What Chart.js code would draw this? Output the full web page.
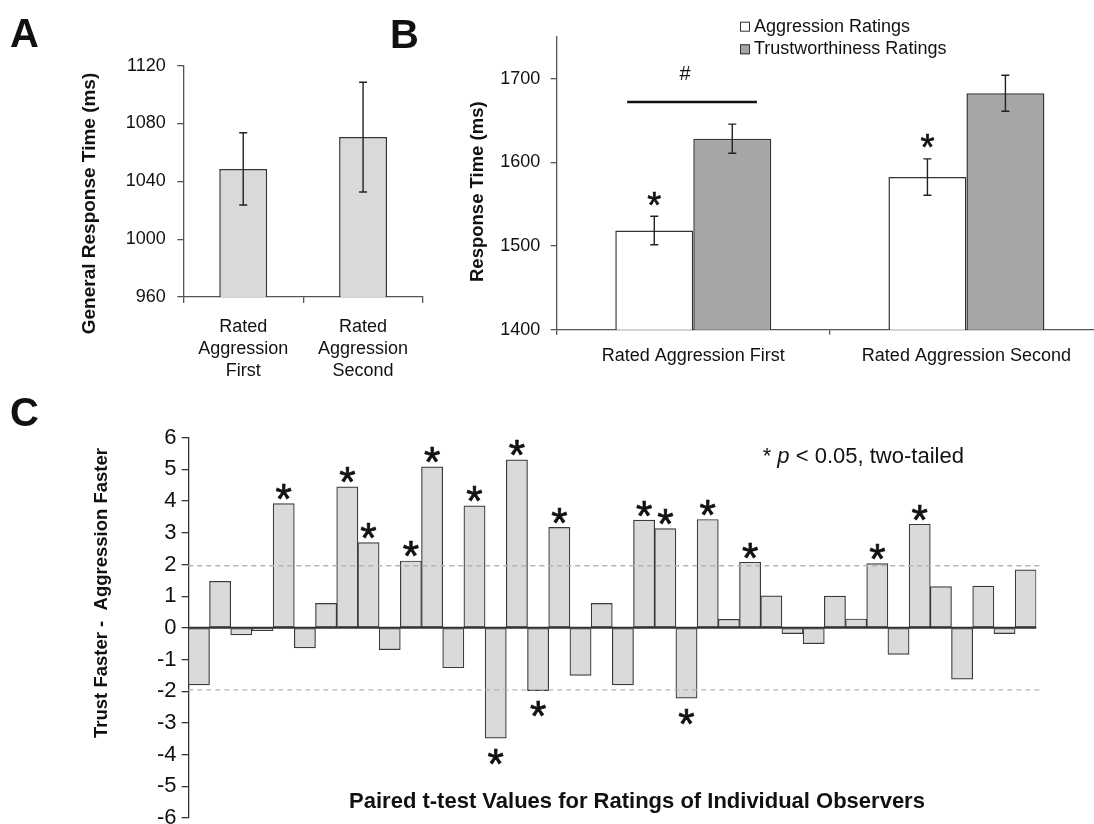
<!DOCTYPE html>
<html>
<head>
<meta charset="utf-8">
<title>Response times and observer t-values</title>
<script src="https://cdn.jsdelivr.net/npm/chart.js@4.4.1/dist/chart.umd.min.js"></script>
<style>
  html, body { margin:0; padding:0; background:#fff; overflow:hidden; }
  body { position:relative; width:1094px; height:824px; font-family:"Liberation Sans", Arial, sans-serif; color:#111; }
  canvas { position:absolute; }
  .tag { position:absolute; font-weight:bold; font-size:40px; line-height:1; }
</style>
</head>
<body>
<canvas id="chartA" width="440" height="390" style="left:0;top:0"></canvas>
<canvas id="chartB" width="670" height="390" style="left:440px;top:0"></canvas>
<canvas id="chartC" width="1094" height="470" style="left:0;top:380px"></canvas>
<div class="tag" style="left:10px;top:13px">A</div>
<div class="tag" style="left:390px;top:14px">B</div>
<div class="tag" style="left:10px;top:392px">C</div>
<script>
// ---- data ----
// panel A
const phaseLabels = [['Rated','Aggression','First'], ['Rated','Aggression','Second']];
const generalRT    = [1048.6, 1070.6];
const generalRTErr = [25, 38];

// panel B
const groupLabels   = ['Rated Aggression First', 'Rated Aggression Second'];
const seriesNames   = ['Aggression Ratings', 'Trustworthiness Ratings'];
const aggressionRT  = [1518.5, 1582.3];
const aggressionErr = [17, 21.7];
const aggressionSig = [true, true];
const trustRT       = [1628.2, 1682.4];
const trustErr      = [17.4, 21.5];
const trustSig      = [false, false];
const orderEffect   = 1672;   // '#' bar height (ms)

// panel C: paired t per observer
const tValues = [
  -1.80, 1.47, -0.22, -0.09, 3.92, -0.63, 0.77, 4.45, 2.69, -0.69,
   2.11, 5.08, -1.26, 3.85, -3.48, 5.30, -1.98, 3.17, -1.50, 0.77,
  -1.80, 3.40, 3.13, -2.22, 3.42, 0.27, 2.07, 1.01, -0.18, -0.50,
   1.00, 0.28, 2.03, -0.84, 3.27, 1.30, -1.62, 1.32, -0.18, 1.83
];
const tSig = [
  false,false,false,false,true, false,false,true, true, false,
  true, true, false,true, true, true, true, true, false,false,
  false,true, true, true, true, false,true, false,false,false,
  false,false,true, false,true, false,false,false,false,false
];
const observers = tValues.map((_, i) => 'Observer ' + (i + 1));
const critT = 1.96;

// ---- look ----
const FAMILY = '"Liberation Sans", Arial, sans-serif';
Chart.defaults.font.family = FAMILY;
Chart.defaults.color = '#111';
const axisGrey = '#555';
const edge = '#333';
const plain = v => String(v);   // no thousands separator

// ---- small plugins ----
const errorBars = {
  id: 'errorBars',
  afterDatasetsDraw(chart, args, opts) {
    const ctx = chart.ctx, y = chart.scales.y;
    chart.data.datasets.forEach((ds, di) => {
      if (!ds.errors) return;
      chart.getDatasetMeta(di).data.forEach((bar, i) => {
        const v = ds.data[i], e = ds.errors[i];
        const y1 = y.getPixelForValue(v + e), y2 = y.getPixelForValue(v - e);
        const cap = opts.cap || 4;
        ctx.save();
        ctx.strokeStyle = opts.color || '#222';
        ctx.lineWidth = opts.width || 1.3;
        ctx.beginPath();
        ctx.moveTo(bar.x, y1); ctx.lineTo(bar.x, y2);
        ctx.moveTo(bar.x - cap, y1); ctx.lineTo(bar.x + cap, y1);
        ctx.moveTo(bar.x - cap, y2); ctx.lineTo(bar.x + cap, y2);
        ctx.stroke();
        ctx.restore();
      });
    });
  }
};

const refLines = {
  id: 'refLines',
  afterDatasetsDraw(chart, args, opts) {
    if (!opts.on) return;
    const ctx = chart.ctx, a = chart.chartArea, y = chart.scales.y;
    ctx.save();
    const y0 = y.getPixelForValue(0);
    ctx.strokeStyle = opts.zeroColor; ctx.lineWidth = opts.zeroWidth;
    ctx.beginPath(); ctx.moveTo(a.left, y0); ctx.lineTo(a.right, y0); ctx.stroke();
    ctx.strokeStyle = opts.dashColor; ctx.lineWidth = 1.3; ctx.setLineDash(opts.dash);
    opts.dashed.forEach(v => {
      const yy = y.getPixelForValue(v);
      ctx.beginPath(); ctx.moveTo(a.left, yy); ctx.lineTo(a.right + opts.overhang, yy); ctx.stroke();
    });
    ctx.restore();
  }
};

const stars = {
  id: 'stars',
  afterDatasetsDraw(chart, args, opts) {
    if (!opts.size) return;
    const ctx = chart.ctx, y = chart.scales.y;
    ctx.save();
    ctx.font = opts.size + 'px ' + FAMILY;
    ctx.fillStyle = '#111'; ctx.strokeStyle = '#111'; ctx.lineWidth = opts.stroke || 0;
    ctx.textAlign = 'center'; ctx.textBaseline = 'alphabetic';
    const m = ctx.measureText('*');
    const shift = (m.actualBoundingBoxAscent - m.actualBoundingBoxDescent) / 2;
    chart.data.datasets.forEach((ds, di) => {
      if (!ds.stars) return;
      chart.getDatasetMeta(di).data.forEach((bar, i) => {
        if (!ds.stars[i]) return;
        const v = ds.data[i], e = ds.errors ? ds.errors[i] : 0;
        const cy = v >= 0 ? y.getPixelForValue(v + e) - opts.above
                          : y.getPixelForValue(v - e) + opts.below;
        ctx.fillText('*', bar.x, cy + shift);
        if (opts.stroke) ctx.strokeText('*', bar.x, cy + shift);
      });
    });
    ctx.restore();
  }
};

const bracket = {
  id: 'bracket',
  afterDatasetsDraw(chart, args, opts) {
    if (!opts.label) return;
    const ctx = chart.ctx, x = chart.scales.x, y = chart.scales.y;
    const w = x.width / chart.data.labels.length;
    const cx = x.getPixelForValue(opts.category);
    const x1 = cx + opts.from * w, x2 = cx + opts.to * w;
    const yy = y.getPixelForValue(opts.value);
    ctx.save();
    ctx.strokeStyle = '#111'; ctx.lineWidth = 2.6;
    ctx.beginPath(); ctx.moveTo(x1, yy); ctx.lineTo(x2, yy); ctx.stroke();
    ctx.font = '20px ' + FAMILY; ctx.fillStyle = '#111';
    ctx.textAlign = 'center'; ctx.textBaseline = 'middle';
    ctx.fillText(opts.label, (x1 + x2) / 2 + opts.dx, yy - opts.gap);
    ctx.restore();
  }
};

const boxLegend = {
  id: 'boxLegend',
  afterDraw(chart, args, opts) {
    if (!opts.x) return;
    const ctx = chart.ctx;
    ctx.save();
    ctx.font = '18px ' + FAMILY; ctx.textBaseline = 'middle'; ctx.textAlign = 'left';
    chart.data.datasets.forEach((ds, i) => {
      const yy = opts.y + i * opts.gap;
      ctx.fillStyle = ds.backgroundColor; ctx.fillRect(opts.x, yy - 5, 10, 10);
      ctx.strokeStyle = '#333'; ctx.lineWidth = 1; ctx.strokeRect(opts.x + 0.5, yy - 4.5, 9, 9);
      ctx.fillStyle = '#111'; ctx.fillText(ds.label, opts.x + 14, yy);
    });
    ctx.restore();
  }
};

const captions = {
  id: 'captions',
  afterDraw(chart, args, opts) {
    const ctx = chart.ctx;
    (opts.items || []).forEach(it => {
      ctx.save();
      ctx.translate(it.x, it.y);
      if (it.rotate) ctx.rotate(it.rotate * Math.PI / 180);
      ctx.fillStyle = '#111'; ctx.textBaseline = 'middle'; ctx.textAlign = 'left';
      const parts = it.parts || [{ text: it.text }];
      const fonts = parts.map(p => (p.italic ? 'italic ' : '') + (it.bold ? 'bold ' : '') + it.size + 'px ' + FAMILY);
      const widths = parts.map((p, k) => { ctx.font = fonts[k]; return ctx.measureText(p.text).width; });
      let x0 = it.align === 'left' ? 0 : -widths.reduce((s, w) => s + w, 0) / 2;
      parts.forEach((p, k) => { ctx.font = fonts[k]; ctx.fillText(p.text, x0, 0); x0 += widths[k]; });
      ctx.restore();
    });
  }
};

const plugins = [errorBars, refLines, stars, bracket, boxLegend, captions];

// ---- panel A ----
new Chart(document.getElementById('chartA'), {
  type: 'bar',
  plugins,
  data: {
    labels: phaseLabels,
    datasets: [{
      data: generalRT, errors: generalRTErr,
      backgroundColor: '#d9d9d9', borderColor: edge, borderWidth: 1.5, borderSkipped: false,
      barPercentage: 1, categoryPercentage: 0.4
    }]
  },
  options: {
    responsive: false, animation: false,
    layout: { padding: { left: 0, top: 65.7, right: 17, bottom: 3 } },
    plugins: {
      legend: { display: false }, tooltip: { enabled: false },
      errorBars: { cap: 4, color: '#222', width: 1.4 },
      captions: { items: [
        { text: 'General Response Time (ms)', x: 89.5, y: 203.5, rotate: -90, size: 19, bold: true }
      ] }
    },
    scales: {
      x: {
        grid: { drawOnChartArea: false, tickLength: 6, color: axisGrey, lineWidth: 1.3, offset: true },
        border: { color: axisGrey, width: 1.3 },
        ticks: { font: { size: 18, lineHeight: 1.22 }, padding: 13, maxRotation: 0 },
        afterFit: s => { s.height = 90; }
      },
      y: {
        min: 960, max: 1120,
        ticks: { stepSize: 40, font: { size: 18 }, padding: 11.6, callback: plain },
        grid: { drawOnChartArea: false, tickLength: 6, color: axisGrey, lineWidth: 1.3 },
        border: { color: axisGrey, width: 1.3 },
        afterFit: s => { s.width = 183.3; }
      }
    }
  }
});

// ---- panel B ----
new Chart(document.getElementById('chartB'), {
  type: 'bar',
  plugins,
  data: {
    labels: groupLabels,
    datasets: [
      { label: seriesNames[0], data: aggressionRT, errors: aggressionErr, stars: aggressionSig,
        backgroundColor: '#ffffff', borderColor: edge, borderWidth: 1.5, borderSkipped: false,
        barPercentage: 1, categoryPercentage: 0.571 },
      { label: seriesNames[1], data: trustRT, errors: trustErr, stars: trustSig,
        backgroundColor: '#a6a6a6', borderColor: edge, borderWidth: 1.5, borderSkipped: false,
        barPercentage: 1, categoryPercentage: 0.571 }
    ]
  },
  options: {
    responsive: false, animation: false,
    layout: { padding: { left: 0, top: 36.7, right: 7, bottom: 5.3 } },
    plugins: {
      legend: { display: false }, tooltip: { enabled: false },
      errorBars: { cap: 4, color: '#222', width: 1.4 },
      stars: { size: 36, above: 17.6, below: 17.6, stroke: 0.6 },
      bracket: { label: '#', category: 0, value: orderEffect, from: -0.242, to: 0.233, dx: -7, gap: 27.7 },
      boxLegend: { x: 300, y: 26.7, gap: 22.6 },
      captions: { items: [
        { text: 'Response Time (ms)', x: 38, y: 191.7, rotate: -90, size: 18.5, bold: true }
      ] }
    },
    scales: {
      x: {
        grid: { drawOnChartArea: false, tickLength: 5, color: axisGrey, lineWidth: 1.3, offset: true },
        border: { color: axisGrey, width: 1.3 },
        ticks: { font: { size: 18 }, padding: 10.5, maxRotation: 0 },
        afterFit: s => { s.height = 55; }
      },
      y: {
        min: 1400, max: 1750,
        ticks: { stepSize: 100, font: { size: 18 }, padding: 10.4, callback: plain },
        afterBuildTicks: s => { s.ticks = s.ticks.filter(t => t.value % 100 === 0); },
        grid: { drawOnChartArea: false, tickLength: 6, color: axisGrey, lineWidth: 1.3 },
        border: { color: axisGrey, width: 1.3 },
        afterFit: s => { s.width = 116.7; }
      }
    }
  }
});

// ---- panel C ----
new Chart(document.getElementById('chartC'), {
  type: 'bar',
  plugins,
  data: {
    labels: observers,
    datasets: [{
      data: tValues, stars: tSig,
      backgroundColor: '#dadada', borderColor: '#3a3a3a', borderWidth: 1.2, borderSkipped: false,
      barPercentage: 1, categoryPercentage: 1
    }]
  },
  options: {
    responsive: false, animation: false,
    layout: { padding: { left: 0, top: 57.7, right: 57.7, bottom: 32 } },
    plugins: {
      legend: { display: false }, tooltip: { enabled: false },
      refLines: { on: true, zeroColor: '#333', zeroWidth: 2, dashColor: '#b3b3b3', dash: [5, 4], dashed: [critT, -critT], overhang: 6 },
      stars: { size: 42, above: 11.5, below: 18.7, stroke: 0.7 },
      captions: { items: [
        { text: 'Trust Faster -  Aggression Faster', x: 102, y: 213, rotate: -90, size: 18.5, bold: true },
        { text: 'Paired t-test Values for Ratings of Individual Observers', x: 637, y: 421.7, size: 22, bold: true },
        { parts: [{ text: '* ' }, { text: 'p', italic: true }, { text: ' < 0.05, two-tailed' }], x: 762.7, y: 76.7, size: 22, align: 'left' }
      ] }
    },
    scales: {
      x: { display: false },
      y: {
        min: -6, max: 6,
        ticks: { stepSize: 1, font: { size: 22 }, padding: 5 },
        grid: { drawOnChartArea: false, tickLength: 6.7, color: '#333', lineWidth: 1.3 },
        border: { color: '#333', width: 1.3 },
        afterFit: s => { s.width = 188.3; }
      }
    }
  }
});
</script>
</body>
</html>
